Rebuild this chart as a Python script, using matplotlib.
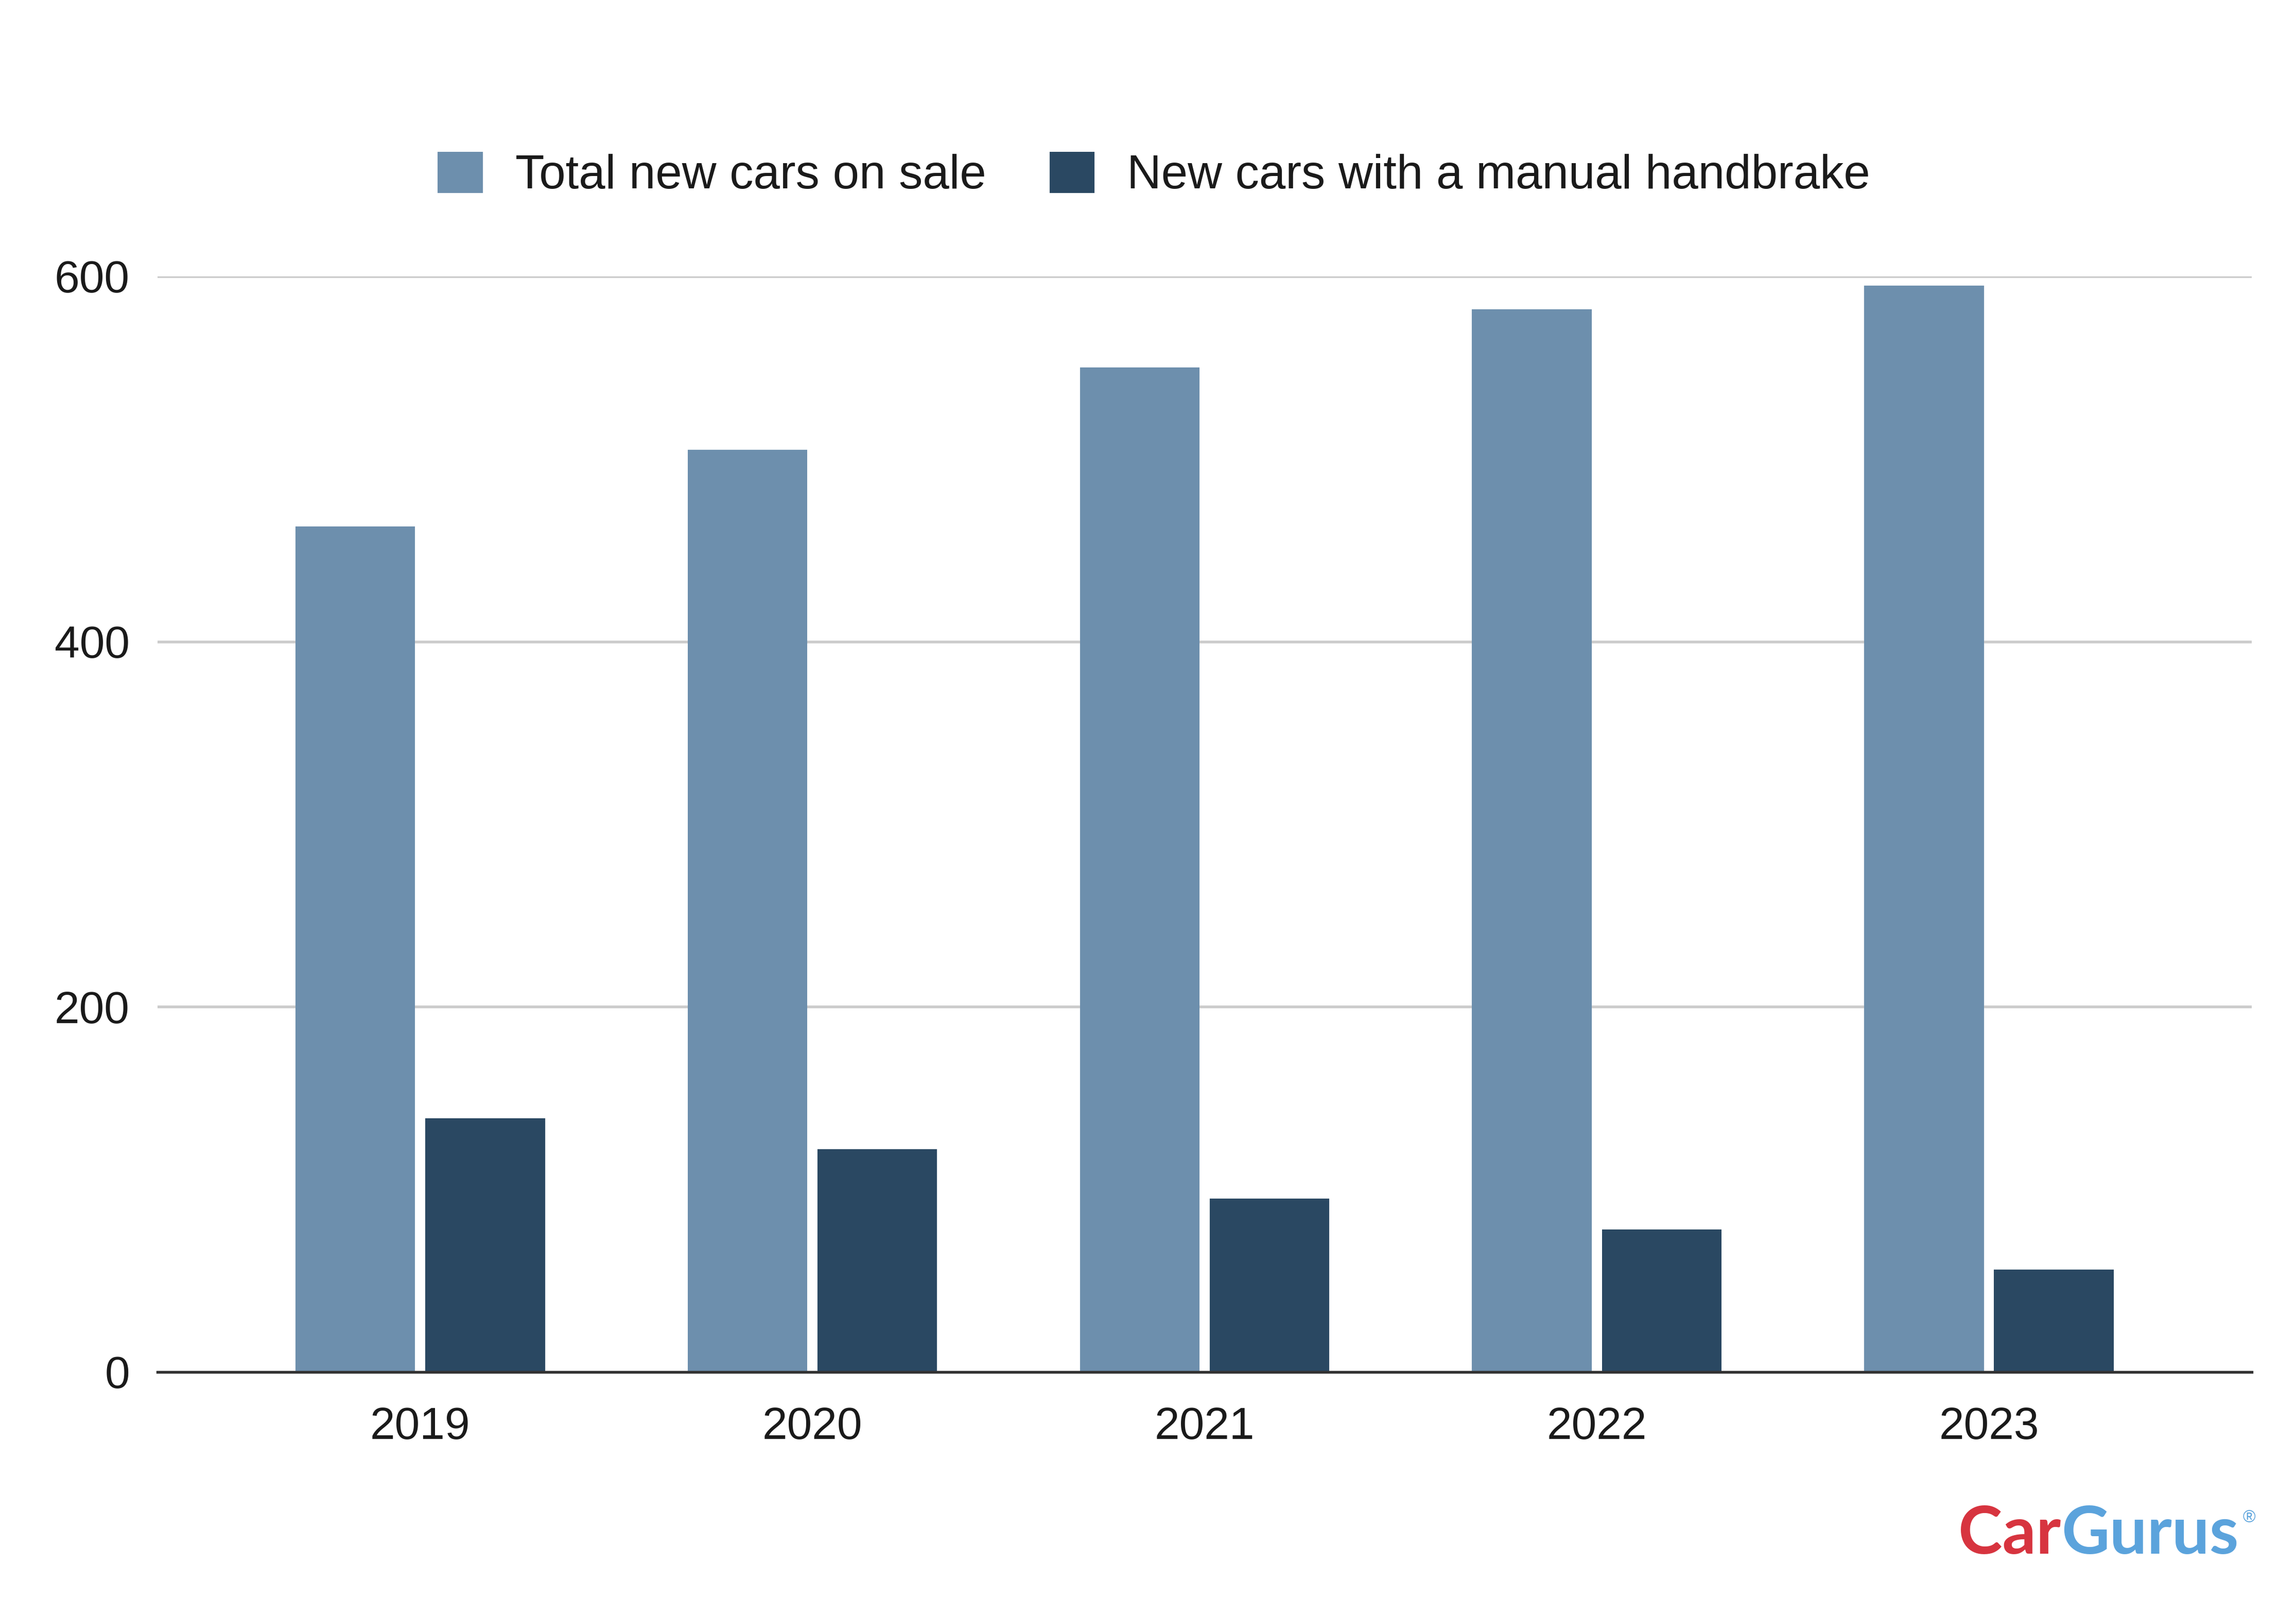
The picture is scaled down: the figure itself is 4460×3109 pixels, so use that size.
"""New cars on sale vs. new cars with a manual handbrake, 2019-2023."""

import matplotlib.pyplot as plt
import numpy as np

years = ["2019", "2020", "2021", "2022", "2023"]
total_on_sale = [463, 505, 550, 582, 595]
manual_handbrake = [139, 122, 95, 78, 56]

series_labels = ["Total new cars on sale", "New cars with a manual handbrake"]
y_ticks = [0, 200, 400, 600]

LIGHT = "#6D8FAD"
DARK = "#2A4862"

plt.rcParams["font.family"] = ["Liberation Sans", "DejaVu Sans"]

fig = plt.figure(figsize=(4460 / 300, 3109 / 300), dpi=300)
ax = fig.add_axes([0.0686, 0.1425, 0.9121, 0.6848])

x = np.arange(len(years))
width = 0.305
gap = 0.013

ax.bar(x - width / 2 - gap, total_on_sale, width, color=LIGHT,
       label=series_labels[0], zorder=3)
ax.bar(x + width / 2 + gap, manual_handbrake, width, color=DARK,
       label=series_labels[1], zorder=3)

ax.set_xlim(-0.67, len(years) - 1 + 0.67)
ax.set_ylim(0, 600)
ax.set_xticks(x)
ax.set_xticklabels(years)
ax.set_yticks(y_ticks)

ax.tick_params(axis="both", length=0, labelsize=21, colors="#1A1A1A")
ax.tick_params(axis="x", pad=16)
ax.tick_params(axis="y", pad=13)

ax.grid(axis="y", color="#CCCCCC", linewidth=1.3, zorder=0)
for side in ["top", "right", "left"]:
    ax.spines[side].set_visible(False)
ax.spines["bottom"].set_color("#333333")
ax.spines["bottom"].set_linewidth(1.3)
ax.spines["bottom"].set_zorder(4)

fig.legend(loc="center", bbox_to_anchor=(0.5026, 0.8906), ncol=2,
           frameon=False, fontsize=22.2, handlelength=0.95, handleheight=0.95,
           handletextpad=0.68, columnspacing=1.33, labelcolor="#1A1A1A")

# CarGurus logo drawn as text
logo_font = dict(fontsize=31, fontweight="bold", family=["Lato", "DejaVu Sans"])
car = fig.text(0.8530, 0.0290, "Car", color="#D7343F", ha="left",
               va="baseline", **logo_font)
gurus = ax.annotate("Gurus", xy=(1, 0), xycoords=car, ha="left", va="bottom",
                    color="#5BA3DC", annotation_clip=False, **logo_font)
ax.annotate("®", xy=(1, 0.78), xycoords=gurus, xytext=(2, 0),
            textcoords="offset points", ha="left", va="center",
            color="#5BA3DC", fontsize=8, annotation_clip=False)

fig.savefig("out.png", dpi=300, facecolor="white")
